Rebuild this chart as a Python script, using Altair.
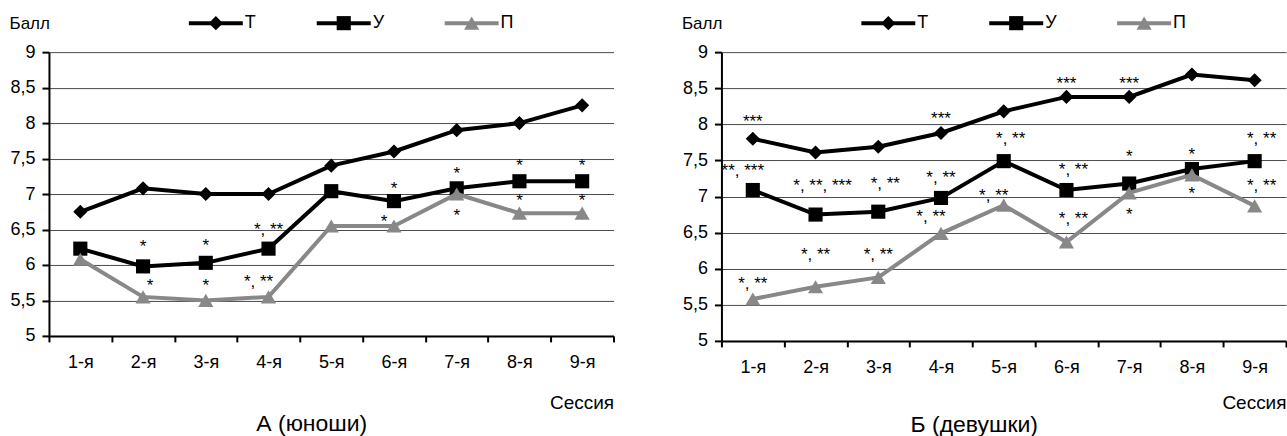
import altair as alt
import pandas as pd

FONT = "Liberation Sans"

sessions = ["1-я", "2-я", "3-я", "4-я", "5-я", "6-я", "7-я", "8-я", "9-я"]
series_names = ["Т", "У", "П"]
y_ticks = [5, 5.5, 6, 6.5, 7, 7.5, 8, 8.5, 9]

# А (юноши)
boys_T = [6.75, 7.08, 7.0, 7.0, 7.4, 7.6, 7.9, 8.0, 8.25]
boys_U = [6.23, 5.98, 6.03, 6.23, 7.04, 6.9, 7.08, 7.18, 7.18]
boys_P = [6.08, 5.55, 5.5, 5.55, 6.55, 6.55, 7.0, 6.73, 6.73]

# Б (девушки)
girls_T = [7.8, 7.61, 7.69, 7.88, 8.18, 8.38, 8.38, 8.69, 8.61]
girls_U = [7.09, 6.75, 6.79, 6.98, 7.49, 7.09, 7.18, 7.38, 7.49]
girls_P = [5.58, 5.75, 5.88, 6.49, 6.88, 6.37, 7.05, 7.3, 6.87]

# significance marks: session, level on the score axis, text, placement
boys_ann_session = ["2-я", "2-я", "3-я", "3-я", "4-я", "4-я", "6-я", "6-я", "7-я", "7-я", "8-я", "8-я", "9-я", "9-я"]
boys_ann_level = [6.32, 5.77, 6.34, 5.77, 6.56, 5.83, 7.14, 6.68, 7.35, 6.76, 7.46, 6.97, 7.46, 6.97]
boys_ann_text = ["*", "*", "*", "*", "*, **", "*, **", "*", "*", "*", "*", "*", "*", "*", "*"]
boys_ann_place = ["c", "r", "c", "c", "c", "l", "c", "l", "c", "c", "c", "c", "c", "c"]

girls_ann_session = ["1-я", "1-я", "1-я", "2-я", "2-я", "3-я", "3-я", "4-я", "4-я", "4-я", "5-я", "5-я",
                     "6-я", "6-я", "6-я", "7-я", "7-я", "7-я", "8-я", "8-я", "9-я", "9-я"]
girls_ann_level = [8.10, 7.42, 5.86, 7.21, 6.26, 7.24, 6.26, 8.14, 7.33, 6.78, 7.86, 7.07,
                   8.63, 7.44, 6.76, 8.63, 7.61, 6.82, 7.65, 7.10, 7.86, 7.21]
girls_ann_text = ["***", "**, ***", "*, **", "*, **, ***", "*, **", "*, **", "*, **", "***", "*, **", "*, **",
                  "*, **", "*, **", "***", "*, **", "*, **", "***", "*", "*", "*", "*", "*, **", "*, **"]
girls_ann_place = ["c", "l", "c", "r", "c", "r", "c", "c", "c", "l", "r", "l",
                   "c", "r", "r", "c", "c", "c", "c", "c", "r", "r"]

COLORS = {"Т": "black", "У": "black", "П": "#888888"}
SHAPES = {"Т": "diamond", "У": "square", "П": "triangle-up"}
SIZES = {"Т": 200, "У": 200, "П": 230}
LEG_X = {"Т": 167, "У": 295, "П": 423}
PLACE_DX = {"c": 0, "l": -10, "r": 7}

W = 565


def panel(T, U, P, ann_s, ann_l, ann_t, ann_p, title, h, tx, ty, sy):
    x_scale = alt.Scale(type="band", domain=sessions, paddingInner=0, paddingOuter=0)
    y_scale = alt.Scale(domain=[5, 9], nice=False, zero=False)
    x_axis = alt.Axis(title="Сессия", tickBand="extent", labelAngle=0, tickSize=6,
                      labelPadding=12, titleX=W, titleY=sy, titleAlign="right",
                      titleBaseline="middle", titleFontSize=19, grid=False)
    y_axis = alt.Axis(title="Балл", values=y_ticks, tickSize=7, labelPadding=7,
                      labelExpr="replace(toString(datum.value), '.', ',')",
                      titleAngle=0, titleX=-40, titleY=-29, titleAlign="left",
                      titleBaseline="middle", titleFontSize=17, grid=True)
    layers = []
    for name, vals in zip(series_names, [T, U, P]):
        df = pd.DataFrame({"session": sessions, "value": vals, "idx": list(range(len(sessions)))})
        x = alt.X("session:N", sort=sessions, scale=x_scale, axis=x_axis)
        y = alt.Y("value:Q", scale=y_scale, axis=y_axis)
        line = alt.Chart(df).mark_line(color=COLORS[name], strokeWidth=4).encode(
            x=x, y=y, order="idx:Q")
        pts = alt.Chart(df).mark_point(filled=True, opacity=1, color=COLORS[name],
                                       shape=SHAPES[name], size=SIZES[name]).encode(x=x, y=y)
        layers += [line, pts]
        # legend entry
        leg = pd.DataFrame({"s": [name]})
        lx = LEG_X[name]
        layers.append(alt.Chart(leg).mark_rule(color=COLORS[name], strokeWidth=4).encode(
            x=alt.value(lx - 27), x2=alt.value(lx + 27), y=alt.value(-29)))
        layers.append(alt.Chart(leg).mark_point(filled=True, opacity=1, color=COLORS[name],
                                                shape=SHAPES[name], size=SIZES[name]).encode(
            x=alt.value(lx), y=alt.value(-29)))
        layers.append(alt.Chart(leg).mark_text(align="left", baseline="middle", fontSize=18,
                                               font=FONT, color="black").encode(
            x=alt.value(lx + 29), y=alt.value(-29), text="s:N"))
    ann = pd.DataFrame({"session": ann_s, "value": ann_l, "text": ann_t, "place": ann_p})
    for place, dx in PLACE_DX.items():
        sub = ann[ann["place"] == place]
        if len(sub) == 0:
            continue
        layers.append(alt.Chart(sub).mark_text(fontSize=17, font=FONT, color="black",
                                               baseline="alphabetic", dy=10, dx=dx).encode(
            x=alt.X("session:N", sort=sessions, scale=x_scale, axis=x_axis),
            y=alt.Y("value:Q", scale=y_scale, axis=y_axis),
            text="text:N"))
    tdf = pd.DataFrame({"t": [title]})
    layers.append(alt.Chart(tdf).mark_text(fontSize=23, font=FONT, color="black",
                                           baseline="middle").encode(
        x=alt.value(tx), y=alt.value(ty), text="t:N"))
    return alt.layer(*layers).properties(width=W, height=h)


left = panel(boys_T, boys_U, boys_P, boys_ann_session, boys_ann_level, boys_ann_text,
             boys_ann_place, "А (юноши)", 284, 263, 372, 67)
right = panel(girls_T, girls_U, girls_P, girls_ann_session, girls_ann_level, girls_ann_text,
              girls_ann_place, "Б (девушки)", 289, 253, 373, 62)

chart = alt.hconcat(left, right, spacing=108, bounds="flush").properties(
    padding={"left": 9, "top": 14, "right": 0, "bottom": 0},
    background="white",
).configure_view(strokeWidth=0).configure_axis(
    domainColor="black", domainWidth=2, tickColor="black", tickWidth=2,
    labelFont=FONT, labelFontSize=18, labelColor="black",
    titleFont=FONT, titleColor="black", titleFontWeight="normal",
    gridColor="#4a4a4a", gridWidth=1,
)

chart.save("out.html", embed_options={"renderer": "svg", "actions": False})
